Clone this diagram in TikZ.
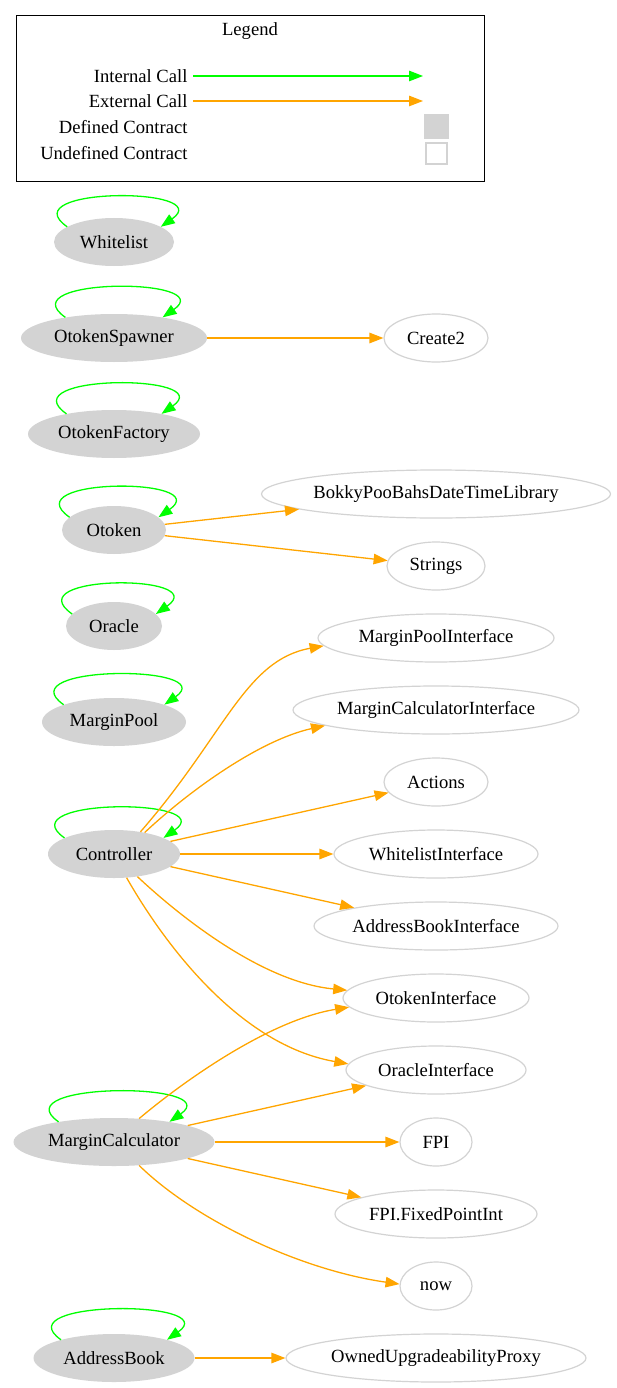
\documentclass[tikz,border=0pt]{standalone}
\usepackage{fontspec}
\setmainfont{Liberation Serif}
\usetikzlibrary{shapes.geometric,arrows.meta}
\definecolor{callgreen}{HTML}{00FF00}
\definecolor{callorange}{HTML}{FFA500}
\definecolor{nodegray}{HTML}{D3D3D3}

\begin{document}
\begin{tikzpicture}[x=1pt, y=-1pt, font=\fontsize{18.6}{22}\selectfont,
  defined/.style={ellipse, fill=nodegray, inner sep=0pt, minimum height=48pt},
  undefined/.style={ellipse, draw=nodegray, line width=1.2pt, inner sep=0pt, minimum height=48pt},
  call/.style={line width=1.3pt, -{Triangle[length=14pt, width=10.5pt]}},
  intcall/.style={call, callgreen},
  extcall/.style={call, callorange},
  selfcall/.style={intcall, out=145, in=35, distance=70pt}]
  \useasboundingbox (0,0) rectangle (616,1388);

  % legend
  \draw[line width=1pt] (16,16) rectangle (484,182);
  \node (legendtitle) at (250,31) {Legend};
  \node[anchor=east] (intlabel) at (191,76) {Internal Call};
  \node[anchor=east] (extlabel) at (191,101) {External Call};
  \node[anchor=east] (deflabel) at (191,127) {Defined Contract};
  \node[anchor=east] (undeflabel) at (191,153) {Undefined Contract};
  \coordinate (intend) at (423,76);
  \coordinate (extend) at (423,101);
  \draw[intcall] ([xshift=2pt]intlabel.east) -- (intend);
  \draw[extcall] ([xshift=2pt]extlabel.east) -- (extend);
  \node[fill=nodegray, inner sep=0pt, minimum size=25pt] (defkey) at (436,127) {};
  \node[draw=nodegray, line width=1.2pt, inner sep=0pt, minimum size=21pt] (undefkey) at (436.5,153.5) {};

  % defined contracts
  \node[defined, minimum width=120pt] (Whitelist) at (114,242) {Whitelist};
  \node[defined, minimum width=186pt] (OtokenSpawner) at (114,338) {OtokenSpawner};
  \node[defined, minimum width=172pt] (OtokenFactory) at (114,434) {OtokenFactory};
  \node[defined, minimum width=104pt] (Otoken) at (114,530) {Otoken};
  \node[defined, minimum width=96pt] (Oracle) at (114,626) {Oracle};
  \node[defined, minimum width=144pt] (MarginPool) at (114,722) {MarginPool};
  \node[defined, minimum width=132pt] (Controller) at (114,854) {Controller};
  \node[defined, minimum width=201pt] (MarginCalculator) at (114,1142) {MarginCalculator};
  \node[defined, minimum width=161pt] (AddressBook) at (114,1358) {AddressBook};

  % undefined contracts
  \node[undefined, minimum width=104pt] (Create2) at (436,338) {Create2};
  \node[undefined, minimum width=349pt] (BokkyPooBahsDateTimeLibrary) at (436,494) {BokkyPooBahsDateTimeLibrary};
  \node[undefined, minimum width=98pt] (Strings) at (436,566) {Strings};
  \node[undefined, minimum width=236pt] (MarginPoolInterface) at (436,638) {MarginPoolInterface};
  \node[undefined, minimum width=286pt] (MarginCalculatorInterface) at (436,710) {MarginCalculatorInterface};
  \node[undefined, minimum width=104pt] (Actions) at (436,782) {Actions};
  \node[undefined, minimum width=204pt] (WhitelistInterface) at (436,854) {WhitelistInterface};
  \node[undefined, minimum width=244pt] (AddressBookInterface) at (436,926) {AddressBookInterface};
  \node[undefined, minimum width=186pt] (OtokenInterface) at (436,998) {OtokenInterface};
  \node[undefined, minimum width=180pt] (OracleInterface) at (436,1070) {OracleInterface};
  \node[undefined, minimum width=72pt] (FPI) at (436,1142) {FPI};
  \node[undefined, minimum width=202pt] (FixedPointInt) at (436,1214) {FPI.FixedPointInt};
  \node[undefined, minimum width=72pt] (now) at (436,1286) {now};
  \node[undefined, minimum width=300pt] (OwnedUpgradeabilityProxy) at (436,1358) {OwnedUpgradeabilityProxy};

  % internal calls
  \draw[selfcall] (Whitelist.162) to (Whitelist.18);
  \draw[selfcall] (OtokenSpawner.157) to (OtokenSpawner.23);
  \draw[selfcall] (OtokenFactory.157) to (OtokenFactory.23);
  \draw[selfcall] (Otoken.164) to (Otoken.16);
  \draw[selfcall] (Oracle.164) to (Oracle.16);
  \draw[selfcall] (MarginPool.161) to (MarginPool.19);
  \draw[selfcall] (Controller.162) to (Controller.18);
  \draw[selfcall] (MarginCalculator.160) to (MarginCalculator.20);
  \draw[selfcall] (AddressBook.161) to (AddressBook.19);

  % external calls
  \draw[extcall] (OtokenSpawner) -- (Create2);
  \draw[extcall] (Otoken) -- (BokkyPooBahsDateTimeLibrary);
  \draw[extcall] (Otoken) -- (Strings);
  \draw[extcall] (Controller.40) .. controls (225,735) and (245,660) .. (MarginPoolInterface.184);
  \draw[extcall] (Controller.35) .. controls (190,790) and (260,740) .. (MarginCalculatorInterface.188);
  \draw[extcall] (Controller) -- (Actions);
  \draw[extcall] (Controller) -- (WhitelistInterface);
  \draw[extcall] (Controller) -- (AddressBookInterface);
  \draw[extcall] (Controller.316) .. controls (175,912) and (260,982) .. (OtokenInterface.175);
  \draw[extcall] (Controller.298) .. controls (165,945) and (240,1045) .. (OracleInterface.176);
  \draw[extcall] (MarginCalculator.43) .. controls (185,1080) and (270,1020) .. (OtokenInterface.186);
  \draw[extcall] (MarginCalculator) -- (OracleInterface);
  \draw[extcall] (MarginCalculator) -- (FPI);
  \draw[extcall] (MarginCalculator) -- (FixedPointInt);
  \draw[extcall] (MarginCalculator.317) .. controls (195,1220) and (300,1270) .. (now.177);
  \draw[extcall] (AddressBook) -- (OwnedUpgradeabilityProxy);
\end{tikzpicture}
\end{document}
